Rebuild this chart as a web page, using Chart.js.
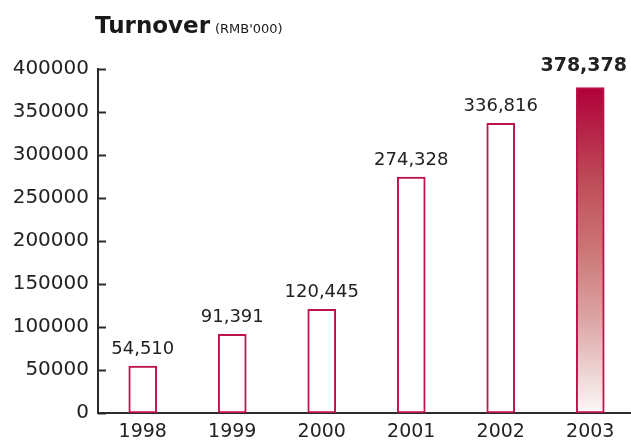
<!DOCTYPE html>
<html>
<head>
<meta charset="utf-8">
<script src="https://cdn.jsdelivr.net/npm/chart.js@4"></script>
<style>
  html, body { margin: 0; padding: 0; background: #fff; }
  #wrap { width: 631px; height: 440px; }
</style>
</head>
<body>
<div id="wrap"><canvas id="turnoverChart" width="631" height="440"></canvas></div>
<script>
const years = ['1998', '1999', '2000', '2001', '2002', '2003'];
const turnover = [54510, 91391, 120445, 274328, 336816, 378378];
const valueLabels = ['54,510', '91,391', '120,445', '274,328', '336,816', '378,378'];
const yTicks = [0, 50000, 100000, 150000, 200000, 250000, 300000, 350000, 400000];

const crimson = '#bc124a';
const axisColor = '#2b2b2b';
const font = 'DejaVu Sans';

// title + unit, drawn as two runs of text
const titlePlugin = {
    id: 'titleRuns',
    afterDraw(chart) {
        const ctx = chart.ctx;
        ctx.save();
        ctx.fillStyle = '#1a1a1a';
        ctx.textBaseline = 'alphabetic';
        ctx.textAlign = 'left';
        ctx.font = 'bold 23px "' + font + '"';
        ctx.fillText('Turnover', 95, 33);
        const w = ctx.measureText('Turnover').width;
        ctx.font = '13px "' + font + '"';
        ctx.fillText("(RMB'000)", 95 + w + 5, 33);
        ctx.restore();
    }
};

// the original's category band runs a little past the right edge
const widenX = {
    id: 'widenX',
    afterLayout(chart) {
        const x = chart.scales.x;
        x.right += 4;
        x.width += 4;
        x.configure();
        x._labelItems = null;
    }
};

// short tick marks on the inside of the y axis
const innerTicks = {
    id: 'innerTicks',
    afterDraw(chart) {
        const ctx = chart.ctx;
        const y = chart.scales.y;
        const left = chart.chartArea.left;
        ctx.save();
        ctx.strokeStyle = axisColor;
        ctx.lineWidth = 2;
        yTicks.forEach(v => {
            const py = Math.round(y.getPixelForValue(v)) + 0.5;
            ctx.beginPath();
            ctx.moveTo(left, py);
            ctx.lineTo(left + 8, py);
            ctx.stroke();
        });
        ctx.restore();
    }
};

// value labels above each bar
const valueLabelPlugin = {
    id: 'valueLabels',
    afterDatasetsDraw(chart) {
        const ctx = chart.ctx;
        const meta = chart.getDatasetMeta(0);
        ctx.save();
        ctx.fillStyle = '#222';
        ctx.textBaseline = 'alphabetic';
        ctx.textAlign = 'center';
        meta.data.forEach((bar, i) => {
            const last = i === meta.data.length - 1;
            ctx.font = (last ? 'bold 19px ' : '18px ') + '"' + font + '"';
            const w = ctx.measureText(valueLabels[i]).width;
            const x = Math.min(bar.x, chart.width - w / 2 - 4);
            ctx.fillText(valueLabels[i], x, bar.y - (last ? 17 : 12));
        });
        ctx.restore();
    }
};

const el = document.getElementById('turnoverChart');

new Chart(el, {
    type: 'bar',
    data: {
        labels: years,
        datasets: [{
            data: turnover,
            backgroundColor: (c) => {
                if (c.dataIndex !== turnover.length - 1) return '#ffffff';
                const area = c.chart.chartArea;
                if (!area) return crimson;
                const y = c.chart.scales.y;
                const g = c.chart.ctx.createLinearGradient(0, y.getPixelForValue(turnover[c.dataIndex]), 0, area.bottom);
                g.addColorStop(0, '#b0003a');
                g.addColorStop(0.3, '#bf4f5a');
                g.addColorStop(0.5, '#cc7676');
                g.addColorStop(0.7, '#dba2a2');
                g.addColorStop(0.87, '#edd2d2');
                g.addColorStop(1, '#fcf8f8');
                return g;
            },
            borderColor: crimson,
            borderWidth: 2,
            borderSkipped: false,
            barThickness: 28,
        }]
    },
    options: {
        responsive: false,
        animation: false,
        layout: { padding: { top: 69, right: 0, left: 0, bottom: 0 } },
        plugins: {
            legend: { display: false },
            tooltip: { enabled: false },
        },
        scales: {
            x: {
                grid: { display: false, drawTicks: false },
                border: { display: true, color: axisColor, width: 2 },
                ticks: {
                    color: '#222',
                    padding: 8,
                    font: { family: font, size: 19 },
                },
                afterFit: (s) => { s.height = 27; },
            },
            y: {
                min: 0,
                max: 400000,
                afterBuildTicks: (s) => { s.ticks = yTicks.map(v => ({ value: v })); },
                grid: { display: false, drawTicks: false },
                border: { display: true, color: axisColor, width: 2 },
                ticks: {
                    color: '#222',
                    padding: 9,
                    font: { family: font, size: 20 },
                    callback: (v) => String(v),
                },
                afterFit: (s) => { s.width = 98; },
            }
        }
    },
    plugins: [widenX, titlePlugin, innerTicks, valueLabelPlugin]
});
</script>
</body>
</html>
